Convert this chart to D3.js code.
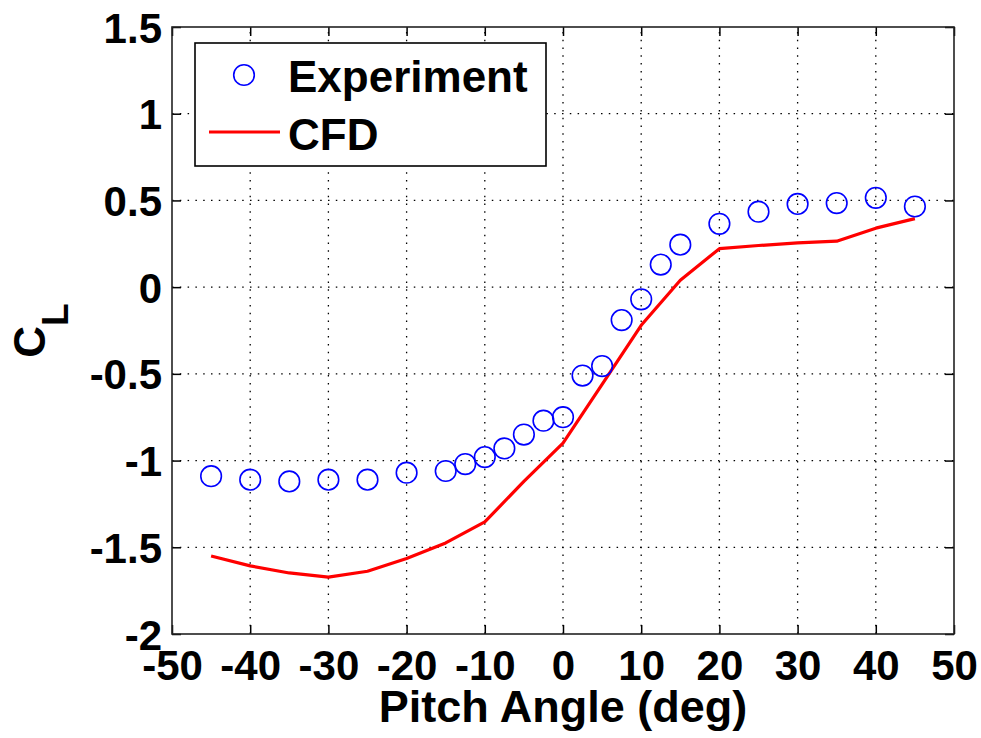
<!DOCTYPE html>
<html>
<head>
<meta charset="utf-8">
<script src="https://cdn.jsdelivr.net/npm/d3@7"></script>
<style>
  html, body { margin: 0; padding: 0; background: #fff; }
  svg { display: block; }
  text { font-family: "Liberation Sans", Arial, sans-serif; font-weight: 700; fill: #000; }
</style>
</head>
<body>
<svg id="chart" width="981" height="738"></svg>
<script>
// ---- data ----
const expX = [-45, -40, -35, -30, -25, -20, -15, -12.5, -10, -7.5, -5, -2.5, 0, 2.5, 5, 7.5, 10, 12.5, 15, 20, 25, 30, 35, 40, 45];
const expY = [-1.09, -1.11, -1.12, -1.11, -1.11, -1.07, -1.06, -1.02, -0.98, -0.93, -0.85, -0.77, -0.75, -0.51, -0.455, -0.19, -0.07, 0.13, 0.245, 0.365, 0.435, 0.48, 0.485, 0.515, 0.465];
const cfdX = [-45, -40, -35, -30, -25, -20, -15, -10, -5, 0, 5, 10, 15, 20, 25, 30, 35, 40, 45];
const cfdY = [-1.55, -1.607, -1.648, -1.672, -1.638, -1.565, -1.475, -1.354, -1.12, -0.9, -0.56, -0.22, 0.04, 0.222, 0.24, 0.255, 0.265, 0.34, 0.395];
const xTicks = [-50, -40, -30, -20, -10, 0, 10, 20, 30, 40, 50];
const yTicks = [-2, -1.5, -1, -0.5, 0, 0.5, 1, 1.5];
const legendLabels = ["Experiment", "CFD"];

// ---- layout ----
const L = 172, R = 954, T = 27, B = 634;
const svg = d3.select("#chart");
const x = d3.scaleLinear().domain([-50, 50]).range([L, R]);
const y = d3.scaleLinear().domain([-2, 1.5]).range([B, T]);

// grid
const grid = svg.append("g").attr("stroke", "#000").attr("stroke-width", 1.3).attr("stroke-dasharray", "1.5 6.3");
grid.selectAll("line.gx").data(xTicks.slice(1, -1)).join("line")
  .attr("x1", d => x(d)).attr("x2", d => x(d)).attr("y1", B).attr("y2", T);
grid.selectAll("line.gy").data(yTicks.slice(1, -1)).join("line")
  .attr("y1", d => y(d)).attr("y2", d => y(d)).attr("x1", L).attr("x2", R);

// axes (inward ticks on all sides)
const tickLen = 9;
const fmt = d => String(d);
const axB = svg.append("g").attr("transform", `translate(0,${B})`)
  .call(d3.axisBottom(x).tickValues(xTicks).tickSize(-tickLen).tickPadding(16).tickFormat(fmt));
const axT = svg.append("g").attr("transform", `translate(0,${T})`)
  .call(d3.axisTop(x).tickValues(xTicks).tickSize(-tickLen).tickFormat(""));
const axLft = svg.append("g").attr("transform", `translate(${L},0)`)
  .call(d3.axisLeft(y).tickValues(yTicks).tickSize(-tickLen).tickPadding(10).tickFormat(fmt));
const axRgt = svg.append("g").attr("transform", `translate(${R},0)`)
  .call(d3.axisRight(y).tickValues(yTicks).tickSize(-tickLen).tickFormat(""));
[axB, axT, axLft, axRgt].forEach(a => {
  a.select(".domain").remove();
  a.selectAll("line").attr("stroke", "#000").attr("stroke-width", 1.5);
  a.selectAll("text").attr("font-family", "Liberation Sans, Arial, sans-serif").attr("font-weight", 700)
    .attr("font-size", 42).attr("fill", "#000");
});
axB.selectAll("text").attr("dy", "0.71em");
axLft.selectAll("text").attr("dy", "0.36em");

// frame
svg.append("rect").attr("x", L).attr("y", T).attr("width", R - L).attr("height", B - T)
  .attr("fill", "none").attr("stroke", "#222").attr("stroke-width", 1.6);

// CFD line
const cfd = cfdX.map((d, i) => [d, cfdY[i]]);
svg.append("path").datum(cfd)
  .attr("d", d3.line().x(d => x(d[0])).y(d => y(d[1])))
  .attr("fill", "none").attr("stroke", "#ff0000").attr("stroke-width", 3.2).attr("stroke-linejoin", "round");

// Experiment markers
const exp = expX.map((d, i) => [d, expY[i]]);
svg.append("g").selectAll("circle").data(exp).join("circle")
  .attr("cx", d => x(d[0])).attr("cy", d => y(d[1])).attr("r", 10.3)
  .attr("fill", "none").attr("stroke", "#0000ff").attr("stroke-width", 1.6);

// legend
const lg = svg.append("g");
lg.append("rect").attr("x", 195).attr("y", 43).attr("width", 351).attr("height", 123)
  .attr("fill", "#fff").attr("stroke", "#000").attr("stroke-width", 1.6);
lg.append("circle").attr("cx", 244).attr("cy", 75).attr("r", 10.3)
  .attr("fill", "none").attr("stroke", "#0000ff").attr("stroke-width", 1.6);
lg.append("line").attr("x1", 209).attr("x2", 280).attr("y1", 132).attr("y2", 132)
  .attr("stroke", "#ff0000").attr("stroke-width", 3.2);
lg.append("text").attr("x", 288).attr("y", 91.5).attr("font-size", 44).text(legendLabels[0]);
lg.append("text").attr("x", 288).attr("y", 149.5).attr("font-size", 44).text(legendLabels[1]);

// axis labels
svg.append("text").attr("x", (L + R) / 2).attr("y", 722).attr("text-anchor", "middle")
  .attr("font-size", 45).text("Pitch Angle (deg)");
const yl = svg.append("text").attr("transform", `translate(45,${(T + B) / 2}) rotate(-90)`)
  .attr("text-anchor", "middle").attr("font-size", 44);
yl.append("tspan").text("C");
yl.append("tspan").attr("font-size", 37).attr("dy", 23).text("L");
</script>
</body>
</html>
